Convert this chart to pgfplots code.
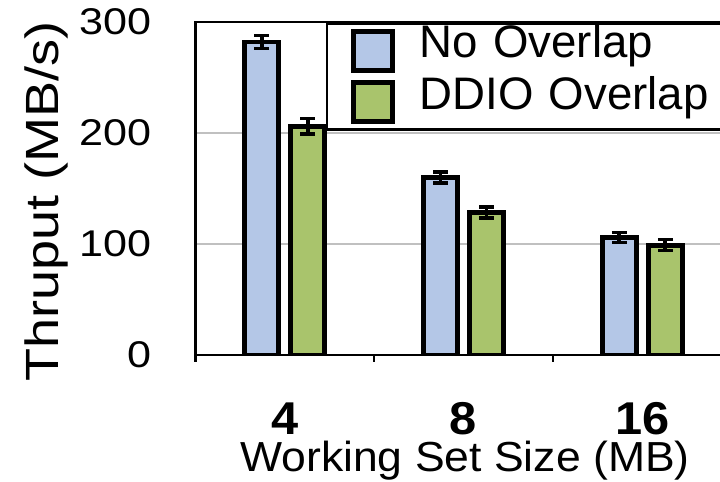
\documentclass[border=0pt]{standalone}
\usepackage{fontspec}
\setmainfont{Liberation Sans}
\newfontfamily\yfont[FakeStretch=1.16]{Liberation Sans}
\newfontfamily\xfont[FakeStretch=1.06]{Liberation Sans}
\usepackage{pgfplots}
\pgfplotsset{compat=1.18}
\definecolor{barblue}{RGB}{180,199,231}
\definecolor{bargreen}{RGB}{169,196,108}
\definecolor{gridgray}{RGB}{192,192,192}

\begin{document}
\begin{tikzpicture}
\begin{axis}[
  name=main,
  scale only axis,
  width=268pt, height=166.5pt,
  xmin=-0.5, xmax=2.5,
  ymin=0, ymax=300,
  ybar, bar width=17pt,
  xtick={0,1,2},
  xticklabels={4,8,16},
  minor xtick={-0.5,0.5,1.5,2.5},
  ytick={0,100,200,300},
  major tick length=0pt,
  minor tick length=3.5pt,
  tick align=outside,
  tick pos=left,
  ymajorgrids,
  grid style={gridgray, line width=1.3pt},
  axis line style={line width=1.3pt},
  minor tick style={line width=1.2pt, black},
  xticklabel style={font=\fontsize{23}{26}\xfont\bfseries, anchor=base, inner sep=0pt, yshift=-39.6pt},
  yticklabel style={font=\fontsize{18.6}{22}\yfont, anchor=east, inner xsep=0pt, xshift=-22pt},
  /pgf/number format/assume math mode=true,
  xlabel={Working Set Size (MB)},
  ylabel={Thruput (MB/s)},
  every axis x label/.style={at={(axis description cs:0.5028,-0.3505)}, anchor=base, inner sep=0pt, font=\fontsize{21}{24}\xfont},
  every axis y label/.style={at={(axis description cs:-0.2776,0.461)}, anchor=center, inner sep=0pt, rotate=90, font=\fontsize{23.3}{26}\yfont},
  legend style={at={(axis description cs:0.243,1)}, anchor=north west, draw=black, line width=1.3pt,
    inner xsep=12.15pt, inner ysep=2.8pt, row sep=3.7pt, column sep=12.3pt,
    font=\fontsize{22.8}{26}\selectfont,
    nodes={inner sep=0pt, text height=0.85em, text depth=0.15em, text width=150pt, align=left}},
  legend cell align=left,
]
\addplot[bar shift=-11.5pt, fill=barblue, draw=black, line width=2.4pt,
  legend image code/.code={\draw[fill=barblue, draw=black, line width=2.4pt] (0pt,-9.75pt) rectangle (19.5pt,9.75pt);},
  error bars/.cd, y dir=both, y explicit,
  error bar style={line width=1.8pt, black},
  error mark options={rotate=90, mark size=3.7pt, line width=1.7pt, black}]
  coordinates {(0,282) +- (0,6) (1,160) +- (0,5) (2,106) +- (0,4.5)};
\addlegendentry{No Overlap}
\addplot[bar shift=11.5pt, fill=bargreen, draw=black, line width=2.4pt,
  legend image code/.code={\draw[fill=bargreen, draw=black, line width=2.4pt] (0pt,-9.75pt) rectangle (19.5pt,9.75pt);},
  error bars/.cd, y dir=both, y explicit,
  error bar style={line width=1.8pt, black},
  error mark options={rotate=90, mark size=3.7pt, line width=1.7pt, black}]
  coordinates {(0,206) +- (0,7) (1,128.5) +- (0,5) (2,99) +- (0,5)};
\addlegendentry{DDIO Overlap}
\end{axis}
\pgfresetboundingbox
\path[use as bounding box] ([xshift=-97.75pt,yshift=-63.5pt]main.south west) rectangle ([xshift=262.25pt,yshift=11pt]main.north west);
\end{tikzpicture}
\end{document}
